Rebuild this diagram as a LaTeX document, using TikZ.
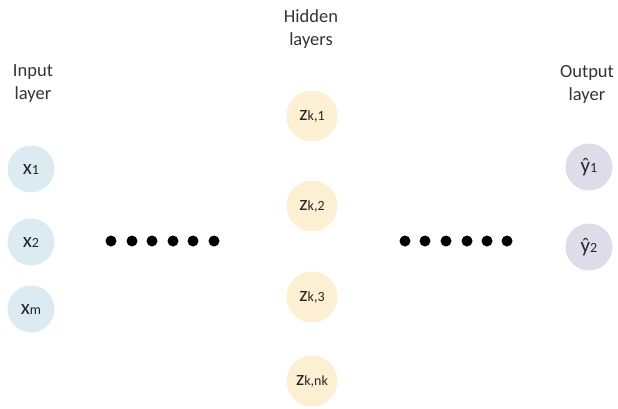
\documentclass[tikz,border=0pt]{standalone}
\usepackage{fontspec}
\setmainfont{Carlito}
\begin{document}
\begin{tikzpicture}[x=1pt,y=-1pt,
  neuron/.style={circle,minimum size=47pt,inner sep=0pt,text=black!85},
  inneuron/.style={neuron,fill=inblue},
  hidneuron/.style={neuron,fill=hidyellow,minimum size=51pt},
  outneuron/.style={neuron,fill=outlav},
  layerlabel/.style={align=center,text=black!80,font=\fontsize{18.5}{23}\selectfont},
  bigdot/.style={circle,fill=black,minimum size=11pt,inner sep=0pt}]
\definecolor{inblue}{HTML}{DCEBF2}
\definecolor{hidyellow}{HTML}{FDF0D2}
\definecolor{outlav}{HTML}{DEDCE9}
\useasboundingbox (0,0) rectangle (618,408);
\newcommand{\nlab}[2]{{\fontsize{21}{21}\selectfont #1}{\fontsize{14}{14}\selectfont #2}}
% labels
\node[layerlabel] (lin) at (33,84) {Input\\layer};
\node[layerlabel] (lhid) at (311,29) {Hidden\\layers};
\node[layerlabel] (lout) at (587,84) {Output\\layer};
% input
\node[inneuron] (x1) at (31,169) {\nlab{x}{1}};
\node[inneuron] (x2) at (31,242) {\nlab{x}{2}};
\node[inneuron] (xm) at (31,309) {\nlab{x}{m}};
% hidden
\node[hidneuron] (z1) at (312,116) {\nlab{z}{k,1}};
\node[hidneuron] (z2) at (312,206) {\nlab{z}{k,2}};
\node[hidneuron] (z3) at (312,297) {\nlab{z}{k,3}};
\node[hidneuron] (zn) at (312,381) {\nlab{z}{k,nk}};
% output
\node[outneuron] (y1) at (589,167) {\nlab{\^{y}}{1}};
\node[outneuron] (y2) at (589,247) {\nlab{\^{y}}{2}};
% dots
\foreach \i/\x in {1/111,2/132,3/152,4/173,5/193,6/214}
  \node[bigdot] (ld\i) at (\x,241) {};
\foreach \i/\x in {1/405,2/425,3/446,4/467,5/487,6/507}
  \node[bigdot] (rd\i) at (\x,241) {};
\end{tikzpicture}
\end{document}
